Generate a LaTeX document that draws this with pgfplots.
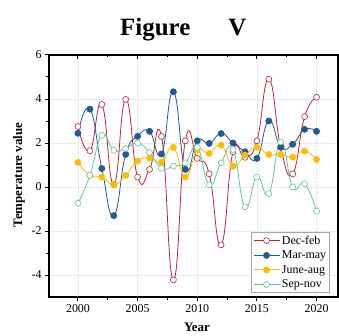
\documentclass[border=0pt]{standalone}
\usepackage{fontspec}
\setmainfont{Liberation Serif}
\usepackage{pgfplots}
\pgfplotsset{compat=1.18}
\definecolor{cred}{RGB}{178,40,52}
\definecolor{cblue}{RGB}{40,88,140}
\definecolor{cyel}{RGB}{245,190,20}
\definecolor{cteal}{RGB}{110,190,160}
\begin{document}
\begin{tikzpicture}
\path[use as bounding box] (-49bp,-39bp) rectangle (290bp,297bp);
\begin{axis}[
  scale only axis, width=289bp, height=242bp,
  xmin=1997.57, xmax=2021.8, ymin=-5, ymax=6,
  xtick={2000,2005,...,2020}, ytick={-4,-2,...,6},
  minor x tick num=1, minor y tick num=1,
  xtick pos=bottom, ytick pos=left,
  tick align=outside,
  major tick length=4bp, minor tick length=2.5bp,
  axis line style={line width=1.3pt},
  every tick/.style={black, line width=1pt},
  grid=major, major grid style={densely dotted, gray!22, line width=0.5pt},
  /pgf/number format/assume math mode=true,
  /pgf/number format/1000 sep={},
  ticklabel style={font=\fontsize{12}{14}\selectfont},
  xlabel={\bfseries Year}, ylabel={\bfseries Temperature value},
  label style={font=\fontsize{13}{15}\selectfont},
  xlabel style={at={(axis description cs:0.512,-0.124)}, anchor=center},
  ylabel style={at={(axis description cs:-0.104,0.504)}, anchor=center, rotate=0},
  legend style={at={(axis description cs:0.972,0.017)}, anchor=south east,
    draw=gray!70, line width=0.5pt, font=\fontsize{12}{14}\selectfont,
    row sep=1.2bp, inner sep=1.5bp},
  legend cell align=left,
  legend image code/.code={\draw[mark repeat=2,mark phase=2] plot coordinates {(0bp,0bp) (13bp,0bp) (26bp,0bp)};},
  every axis plot/.append style={line width=0.8pt, smooth, tension=0.85, mark=*, mark size=3bp},
]
\addplot[cred, mark options={fill=white, draw=cred, line width=0.6pt}] coordinates {
(2000,2.75)(2001,1.65)(2002,3.75)(2003,0.1)(2004,3.98)(2005,0.45)(2006,0.8)(2007,2.3)(2008,-4.22)(2009,2.1)
(2010,1.3)(2011,0.6)(2012,-2.63)(2013,1.6)(2014,1.35)(2015,2.1)(2016,4.9)(2017,1.8)(2018,0.6)(2019,3.2)(2020,4.08)};
\addlegendentry{Dec-feb}
\addplot[cblue, mark options={fill=cblue, draw=cblue}] coordinates {
(2000,2.44)(2001,3.54)(2002,0.84)(2003,-1.3)(2004,1.48)(2005,2.3)(2006,2.53)(2007,1.5)(2008,4.33)(2009,0.8)
(2010,2.1)(2011,1.98)(2012,2.43)(2013,2.0)(2014,1.6)(2015,1.3)(2016,3.0)(2017,1.82)(2018,1.94)(2019,2.62)(2020,2.53)};
\addlegendentry{Mar-may}
\addplot[cyel, mark options={fill=cyel, draw=cyel}] coordinates {
(2000,1.12)(2001,0.53)(2002,0.45)(2003,0.11)(2004,0.53)(2005,1.18)(2006,1.32)(2007,1.13)(2008,1.8)(2009,0.45)
(2010,1.67)(2011,1.53)(2012,1.9)(2013,0.95)(2014,1.45)(2015,1.8)(2016,1.48)(2017,1.48)(2018,1.36)(2019,1.63)(2020,1.25)};
\addlegendentry{June-aug}
\addplot[cteal, mark options={fill=white, draw=cteal, line width=0.6pt}] coordinates {
(2000,-0.74)(2001,0.53)(2002,2.35)(2003,1.67)(2004,1.75)(2005,2.0)(2006,1.57)(2007,0.85)(2008,0.95)(2009,1.1)
(2010,1.8)(2011,0.1)(2012,1.1)(2013,1.7)(2014,-0.9)(2015,0.45)(2016,-0.3)(2017,2.05)(2018,0.0)(2019,0.15)(2020,-1.1)};
\addlegendentry{Sep-nov}
\end{axis}
\begin{axis}[
  scale only axis, width=289bp, height=242bp,
  xmin=1997.57, xmax=2021.8, ymin=-5, ymax=6,
  xtick={2000,2005,...,2020}, minor x tick num=1,
  xtick pos=top, ytick=\empty, xticklabels={},
  tick align=inside,
  major tick length=4bp, minor tick length=2.5bp,
  every tick/.style={black, line width=1pt},
  axis line style={line width=1.3pt},
]
\end{axis}
\node[anchor=base west, inner sep=0pt, font=\fontsize{25}{28}\selectfont\bfseries] at (71bp,261bp) {Figure\hspace{38bp}V};
\end{tikzpicture}
\end{document}
